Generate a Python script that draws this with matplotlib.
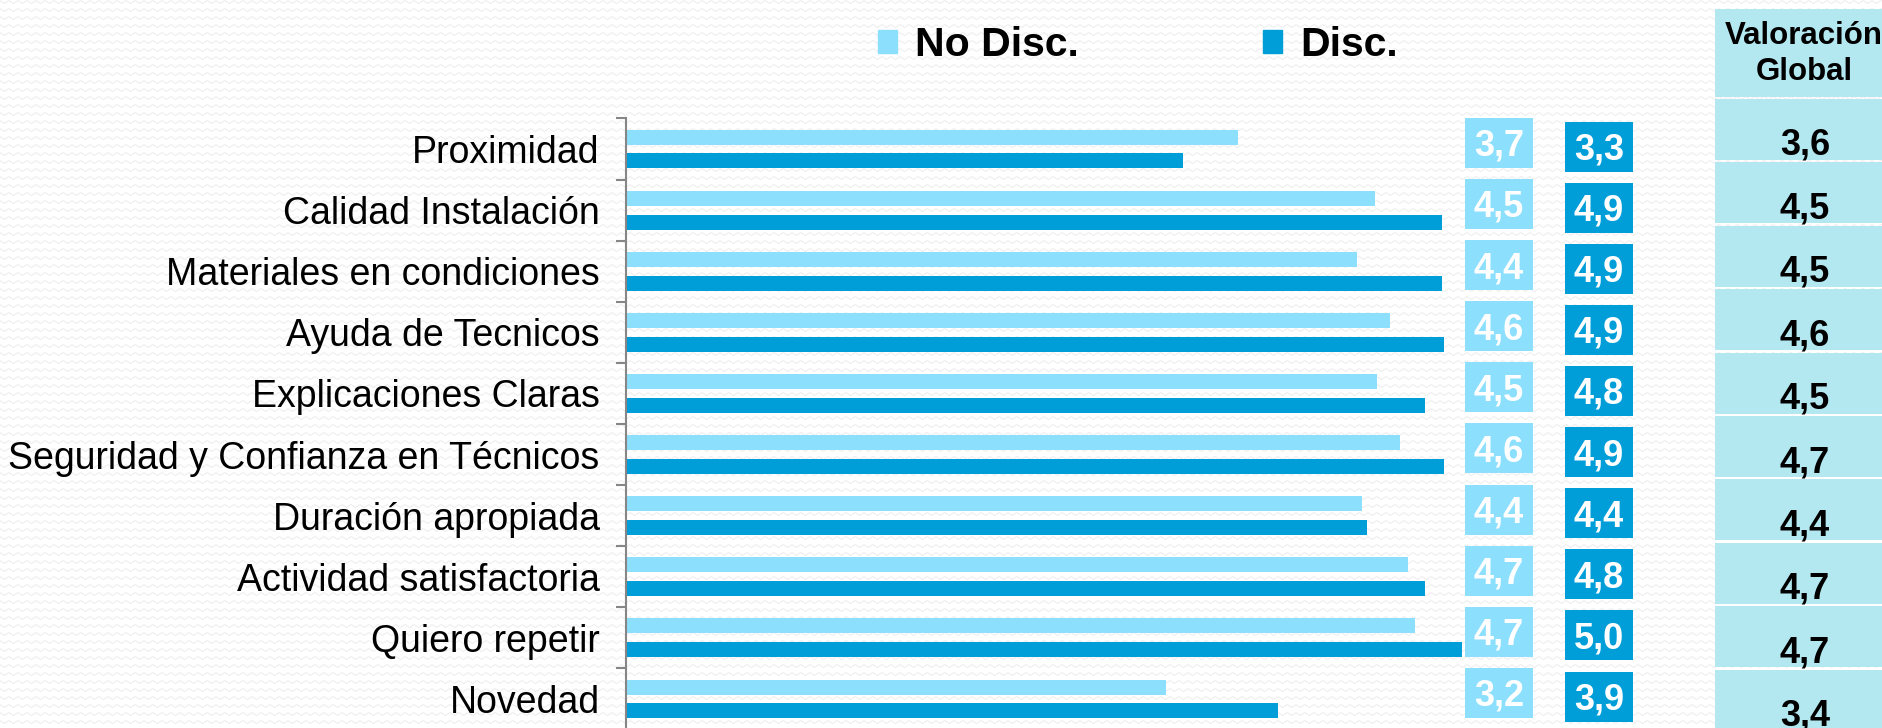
import numpy as np
import matplotlib
matplotlib.use('Agg')
import matplotlib.pyplot as plt
from matplotlib.patches import Rectangle, Patch

plt.rcParams['font.family'] = ['Liberation Sans', 'DejaVu Sans']

# datos
categorias = ['Proximidad', 'Calidad Instalación', 'Materiales en condiciones',
              'Ayuda de Tecnicos', 'Explicaciones Claras',
              'Seguridad y Confianza en Técnicos', 'Duración apropiada',
              'Actividad satisfactoria', 'Quiero repetir', 'Novedad']
no_disc = [3.66, 4.48, 4.37, 4.57, 4.49, 4.63, 4.40, 4.68, 4.72, 3.23]
disc = [3.33, 4.88, 4.88, 4.89, 4.78, 4.89, 4.43, 4.78, 5.00, 3.90]
global_val = [3.6, 4.5, 4.5, 4.6, 4.5, 4.7, 4.4, 4.7, 4.7, 3.4]

c_light = '#8CDFFD'
c_dark = '#009ED9'
c_table = '#B3E8F0'


def fmt(v):
    return f'{v:.1f}'.replace('.', ',')


W, H = 1883, 728
fig = plt.figure(figsize=(W / 100, H / 100), dpi=100)
fig.patch.set_facecolor('white')

# fondo con textura en zigzag
bg = fig.add_axes([0, 0, 1, 1], zorder=-10)
bg.set_xlim(0, W)
bg.set_ylim(H, 0)
bg.axis('off')
xs = np.arange(0, W + 10, 4.5)
zz = np.where(np.arange(len(xs)) % 2 == 0, -1.5, 1.5)
for y0 in np.arange(2, H + 8, 8):
    bg.plot(xs, y0 + zz, color='#efefef', lw=0.8)

# grafico de barras
ax_left, ax_top, row_px = 626, 118.5, 61.1
n = len(categorias)
ax_h = n * row_px
ax = fig.add_axes([ax_left / W, (H - ax_top - ax_h) / H, 1070 / W, ax_h / H])
ax.patch.set_alpha(0)
y = np.arange(n)
ax.barh(y - 0.195, no_disc, height=0.245, color=c_light, label='No Disc.')
ax.barh(y + 0.195, disc, height=0.245, color=c_dark, label='Disc.')
ax.set_ylim(n - 0.5, -0.5)
ax.set_xlim(0, 1070 / 167.2)

ax.set_yticks(y)
ax.set_yticklabels(categorias, fontsize=27)
ax.set_yticks(np.arange(n + 1) - 0.5, minor=True)
ax.tick_params(axis='y', which='major', length=0, pad=19)
ax.tick_params(axis='y', which='minor', length=7, width=1.5, color='#868686')
ax.set_xticks([])
for s in ['top', 'right', 'bottom']:
    ax.spines[s].set_visible(False)
ax.spines['left'].set_color('#868686')
ax.spines['left'].set_linewidth(1.5)

# etiquetas en cajas
bw, bh = 68 / 167.2, 50 / row_px
half_cap = 0.716 * 26 * 100 / 72 / 2 / row_px
for i in range(n):
    for xc, yc, v, col in [(5.22, y[i] - 0.1, no_disc[i], c_light),
                           (5.82, y[i] - 0.04, disc[i], c_dark)]:
        ax.add_patch(Rectangle((xc - bw / 2, yc - bh / 2), bw, bh,
                               fc=col, ec='none', clip_on=False))
        ax.text(xc, yc + half_cap, fmt(v), ha='center', va='baseline',
                color='white', fontsize=26, fontweight='bold')

handles = [Patch(color=c_light), Patch(color=c_dark)]
fig.legend(handles, ['No Disc.', 'Disc.'], loc='center',
           bbox_to_anchor=(1138 / W, 1 - 45 / H), ncol=2, frameon=False,
           prop={'size': 29.5, 'weight': 'bold'}, handlelength=0.45,
           handleheight=0.5, handletextpad=0.45, columnspacing=4.5)

# tabla de valoracion global
tx = fig.add_axes([0, 0, 1, 1])
tx.set_xlim(0, W)
tx.set_ylim(H, 0)
tx.axis('off')
tx.add_patch(Rectangle((1715, 9), 190, 88, fc=c_table, ec='none'))
tx.text(1804, 54, 'Valoración\nGlobal', ha='center', va='center',
        fontsize=22.5, fontweight='bold', linespacing=1.3)
for i, v in enumerate(global_val):
    top = 99 + i * 63.4
    tx.add_patch(Rectangle((1715, top), 190, 61, fc=c_table, ec='none'))
    tx.text(1805, top + 56, fmt(v), ha='center', va='baseline',
            fontsize=26, fontweight='bold')

fig.savefig('out.png', dpi=100, facecolor=fig.get_facecolor())
